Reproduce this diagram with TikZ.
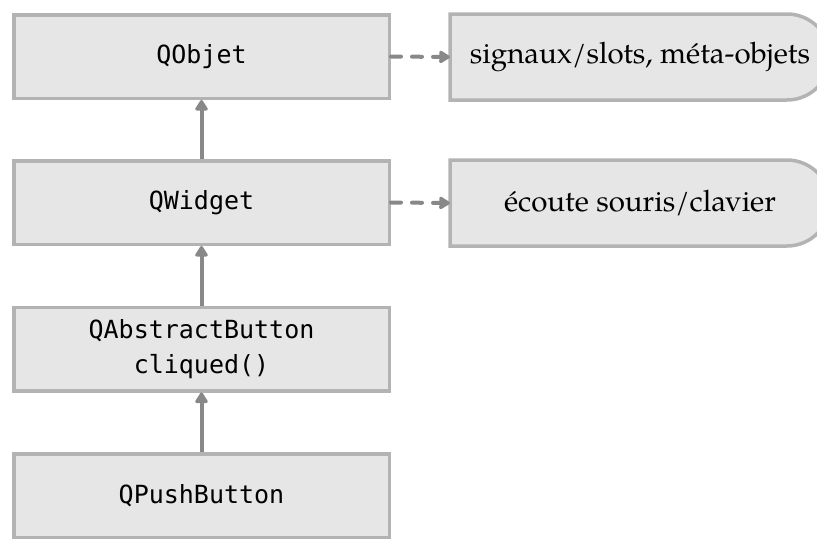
\documentclass[tikz,border=0pt]{standalone}
\usepackage{fontspec}
\setmainfont{TeX Gyre Pagella}
\newfontfamily\monof{DejaVu Sans Mono}
\usetikzlibrary{arrows.meta}
\definecolor{boxfill}{HTML}{E6E6E6}
\definecolor{boxline}{HTML}{B3B3B3}
\definecolor{arrcol}{HTML}{888888}
\tikzset{
  classbox/.style={draw=boxline, fill=boxfill, line width=3.5pt, rectangle,
    minimum width=375.5pt, minimum height=83.5pt, inner sep=0pt, align=center,
    font=\monof\fontsize{25}{35}\selectfont},
  dshape/.style={draw=boxline, fill=boxfill, line width=3.5pt},
  notetext/.style={minimum width=380pt, minimum height=86pt, inner sep=0pt,
    font=\fontsize{29.5}{35}\selectfont},
  inherit/.style={draw=arrcol, line width=4pt, -{Triangle[width=14pt,length=12pt,round]}},
  uses/.style={draw=arrcol, line width=4pt, line cap=round, dash pattern=on 10pt off 11pt,
    -{Triangle[width=14pt,length=12pt,round]}}
}
\begin{document}
\begin{tikzpicture}[x=1pt,y=-1pt]
\useasboundingbox (0,0) rectangle (817,539);
\clip (0,0) rectangle (817,539);
% D-shaped note boxes
\draw[dshape] (450,14) -- (787,14) .. controls (810.7,14) and (830,33.3) .. (830,57)
  .. controls (830,80.7) and (810.7,100) .. (787,100) -- (450,100) -- cycle;
\draw[dshape] (450,160) -- (787,160) .. controls (810.7,160) and (830,179.3) .. (830,203)
  .. controls (830,226.7) and (810.7,246) .. (787,246) -- (450,246) -- cycle;
\node[notetext] (sig) at (640,57) {signaux/slots, méta-objets};
\node[notetext] (ecoute) at (640,203) {écoute souris/clavier};
% class boxes
\node[classbox] (qobjet) at (201.5,56.5) {QObjet};
\node[classbox] (qwidget) at (201.5,202.5) {QWidget};
\node[classbox] (qabs) at (201.5,349) {QAbstractButton\\cliqued()};
\node[classbox] (qpush) at (201.5,495.5) {QPushButton};
% connectors
\draw[inherit] (qwidget.north) -- (qobjet.south);
\draw[inherit] (qabs.north) -- (qwidget.south);
\draw[inherit] (qpush.north) -- (qabs.south);
\draw[uses] (qobjet.east) -- (sig.west);
\draw[uses] (qwidget.east) -- (ecoute.west);
\end{tikzpicture}
\end{document}
